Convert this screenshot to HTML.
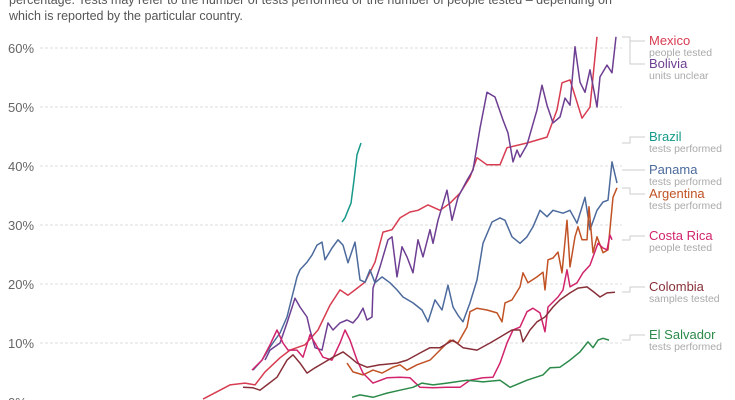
<!DOCTYPE html>
<html><head><meta charset="utf-8">
<style>
html,body{margin:0;padding:0;background:#fff;width:735px;height:400px;overflow:hidden;font-family:"Liberation Sans",sans-serif}
</style></head>
<body>
<svg id="chart" width="735" height="400" viewBox="0 0 735 400" xmlns="http://www.w3.org/2000/svg" font-family="Liberation Sans, sans-serif">
<text x="9" y="4" font-size="12.5" fill="#555">percentage. Tests may refer to the number of tests performed or the number of people tested – depending on</text>
<text x="9" y="20" font-size="12.5" fill="#555">which is reported by the particular country.</text>
<g id="grid"></g>
<g id="series"></g>
<g id="legend"></g>
</svg>
<script>
const yTicks = [0, 10, 20, 30, 40, 50, 60];
const countries = ["Mexico","Bolivia","Brazil","Panama","Argentina","Costa Rica","Colombia","El Salvador"];
const colors = ["#d73c50","#6d3e91","#16998a","#4c6a9c","#c15225","#d1246c","#883039","#2b8a4a"];
const units = ["people tested","units unclear","tests performed","tests performed","tests performed","people tested","samples tested","tests performed"];
const mexico = [[1.5,0.5],[15,2.9],[22.5,3.2],[27.5,2.9],[32.5,5.1],[40,7.5],[45,8.8],[52.5,9.7],[59,12.2],[65,16.4],[70,19],[74,18.1],[77.5,19],[82.5,20.3],[87.5,23.7],[91.5,28.8],[96,29.2],[100,31.2],[105,32.2],[109,32.5],[114,33.4],[120,32.5],[125,33.7],[130,35.4],[135,38.1],[138.5,41.4],[143.5,40.2],[150,40.2],[153.5,43.1],[163.5,43.9],[173.5,44.9],[178.5,49.5],[181,54.1],[185,54.6],[191,48.1],[195,50],[198.5,61.9]];
const bolivia = [[32.5,7.1],[35,8.8],[40,10],[43.5,13.4],[47.5,17.6],[50,16.1],[53.5,14.4],[55,12.2],[57.5,9.2],[61,8.8],[64,13.4],[66.5,12.2],[70,13.4],[73.5,13.9],[76.5,13.4],[79,14.4],[81.5,15.9],[83.5,13.9],[86,14.4],[86.5,19.3],[90,22.9],[94,27.5],[96,28],[98.5,21.2],[101,26.3],[103.5,24.6],[106.5,21.9],[109,27.5],[111.5,24.6],[115,29.2],[116.5,26.9],[119,30.8],[123.5,35.9],[126,30.8],[129,34.7],[133.5,37.6],[136.5,39.3],[140,46.4],[143.5,52.5],[147.5,51.7],[151.5,47.8],[154,45.6],[156.5,40.7],[158.5,42.7],[160,41.5],[163.5,43.6],[168.5,49.5],[171,53.7],[173.5,50.3],[176.5,47.3],[180,48.3],[182.5,51.5],[185,50.3],[187.5,60.2],[190,54.2],[192.5,52.5],[195,56.3],[198.5,50],[200,55.1],[203.5,57.1],[206,55.8],[208,61.9]];
const brazil = [[71,30.5],[72.5,31.2],[74,32.5],[75.5,33.7],[77,37.6],[78.5,41.9],[80.5,43.9]];
const panama = [[26.5,5.4],[31,7.1],[35,9.3],[40,11.7],[43.5,14.4],[46,17.8],[48.5,21.2],[50,22.4],[53.5,23.7],[56,24.9],[58.5,26.6],[61,27.1],[62.5,24.1],[66,26.1],[69,27.5],[71.5,26.6],[74,23.6],[77.5,27.1],[80,20.7],[82.5,20.3],[85,22.4],[87.5,20.2],[91,21.2],[95,20.2],[98.5,19],[101.5,17.8],[106.5,16.8],[111,15.6],[114,13.6],[117.5,17.3],[121,15.6],[124,19.8],[126.5,16.1],[129,14.7],[131.5,13.6],[135,16.8],[138.5,20.7],[141.5,26.9],[146,30.5],[150,31.2],[152.5,30.8],[156,28],[160,26.9],[163.5,28],[166.5,29.7],[170,32.5],[173.5,31.4],[176.5,32.5],[181.5,32],[185,32.5],[188.5,30.3],[192.5,34.7],[195,29.2],[198.5,32.5],[201.5,33.9],[204,34.2],[206,40.7],[208.5,37.1]];
const argentina = [[73.5,6.6],[76.5,5.1],[81.5,4.6],[86.5,5.4],[91,4.9],[96.5,5.9],[100,6.3],[103.5,5.4],[108.5,6.3],[115,7.1],[120,8.8],[125,10.5],[129,10],[133.5,12.7],[135,15.3],[138.5,15.9],[143.5,15.6],[148.5,15.1],[151,13.6],[152.5,16.8],[156,17.3],[160,19.5],[161.5,21.9],[164,20.2],[168.5,21.2],[171.5,22],[172.5,19],[174,24.1],[176.5,24.4],[179,25.4],[181,21.9],[183.5,30.8],[185,22.9],[187.5,28],[189,29.7],[191,27.5],[193.5,27.5],[194.5,33.1],[196.5,25.3],[198.5,28],[201.5,25.3],[204,25.8],[206.5,34.7],[208.5,36.3]];
const costaRica = [[26,5.4],[31,7.1],[35,9.7],[38.5,12.2],[41.5,10],[44,8.8],[48.5,8.8],[51.5,7.6],[55,11.4],[57.5,10],[61.5,7.6],[66,7.1],[70,10],[72.5,12.2],[75,10.5],[78.5,7.1],[81.5,4.9],[86.5,3.2],[93.5,4.1],[100,4.2],[105,4.1],[110,2.5],[116.5,2.4],[123.5,2.5],[130,2.5],[135,3.7],[141.5,4.1],[146.5,4.2],[150,6.6],[153.5,10],[156.5,12.2],[160,12.7],[163.5,15.3],[166.5,15.9],[170,15.1],[172.5,11.9],[174,16.1],[179,17.8],[181.5,19],[183.5,22.4],[185,19.5],[188.5,20.2],[191.5,21.9],[195,23.2],[196.5,24.6],[199,26.9],[201.5,26.1],[203.5,25.8],[205,28.3],[206,27.5]];
const colombia = [[21.5,2.5],[26.5,2.4],[30,2],[33.5,2.9],[38.5,4.2],[43.5,7.1],[46.5,8],[50,6.6],[53.5,4.9],[57.5,5.8],[61.5,6.6],[66.5,7.6],[71.5,8.5],[75,7.6],[78.5,6.6],[83.5,5.9],[90,6.3],[98.5,6.6],[103.5,7.1],[110,8.3],[115,9.2],[120,9.2],[126.5,10.5],[131.5,9.2],[138.5,8.8],[145,10],[150,11],[156,12.2],[160,12.2],[161.5,10.2],[165,12.2],[168.5,13.6],[172.5,14.4],[176.5,16.1],[180,17.3],[185,18.5],[189,19.3],[193.5,19.5],[197.5,18.5],[200,17.8],[203.5,18.5],[207.5,18.6]];
const elSalvador = [[76,0.8],[80,1.2],[86.5,0.8],[93.5,1.5],[100,2],[106.5,2.5],[111,3.2],[116.5,2.9],[123.5,3.2],[133.5,3.7],[141.5,3.4],[150,3.7],[155,2.5],[163.5,3.7],[171.5,4.6],[175,5.8],[180,5.9],[185,7.1],[190,8.5],[194,10.2],[196.5,9.2],[199,10.5],[201.5,10.8],[204.5,10.5]];
const seriesData = [mexico,bolivia,brazil,panama,argentina,costaRica,colombia,elSalvador];
const legendY = [41,64,137,170,194,236,287,335];
const legendAnchor = [37,37,143,170,188,240,292,340];

const NS = "http://www.w3.org/2000/svg";
function xScale(d){ return 200 + d*2; }
function yScale(v){ return 402 - v*5.9; }

const grid = document.getElementById('grid');
yTicks.forEach(t => {
  const l = document.createElementNS(NS,'line');
  
  
  l.setAttribute('x1',40); l.setAttribute('x2',622);
  l.setAttribute('y1',yScale(t)); l.setAttribute('y2',yScale(t));
  l.setAttribute('stroke','#ddd'); l.setAttribute('stroke-dasharray','3,2');
  grid.appendChild(l);
  const tx = document.createElementNS(NS,'text');
  
  
  tx.setAttribute('x',8); tx.setAttribute('y',yScale(t)+5);
  tx.setAttribute('font-size','13'); tx.setAttribute('fill','#666');
  tx.textContent = t + '%';
  grid.appendChild(tx);
});

const sg = document.getElementById('series');
seriesData.forEach((pts,i) => {
  const p = document.createElementNS(NS,'path');
  
  
  p.setAttribute('d', pts.map((q,j)=>(j?'L':'M')+xScale(q[0]).toFixed(1)+','+yScale(q[1]).toFixed(1)).join(''));
  p.setAttribute('fill','none'); p.setAttribute('stroke',colors[i]);
  p.setAttribute('stroke-width','1.5'); p.setAttribute('stroke-linejoin','round');
  sg.appendChild(p);
});

const lg = document.getElementById('legend');
countries.forEach((c,i) => {
  const ly = legendY[i];
  const conn = document.createElementNS(NS,'path');
  
  
  const ay = legendAnchor[i];
  conn.setAttribute('d','M622,'+ay+'H630V'+(ly)+'H645');
  conn.setAttribute('fill','none'); conn.setAttribute('stroke','#ccc'); conn.setAttribute('stroke-width','1');
  lg.appendChild(conn);
  const t = document.createElementNS(NS,'text');
  
  
  t.setAttribute('x',649); t.setAttribute('y',ly+4);
  t.setAttribute('font-size','13'); t.setAttribute('fill',colors[i]);
  t.textContent = c;
  lg.appendChild(t);
  const u = document.createElementNS(NS,'text');
  
  
  u.setAttribute('x',649); u.setAttribute('y',ly+15);
  u.setAttribute('font-size','10.5'); u.setAttribute('fill','#aaa');
  u.textContent = units[i];
  lg.appendChild(u);
});
</script>
</body></html>
